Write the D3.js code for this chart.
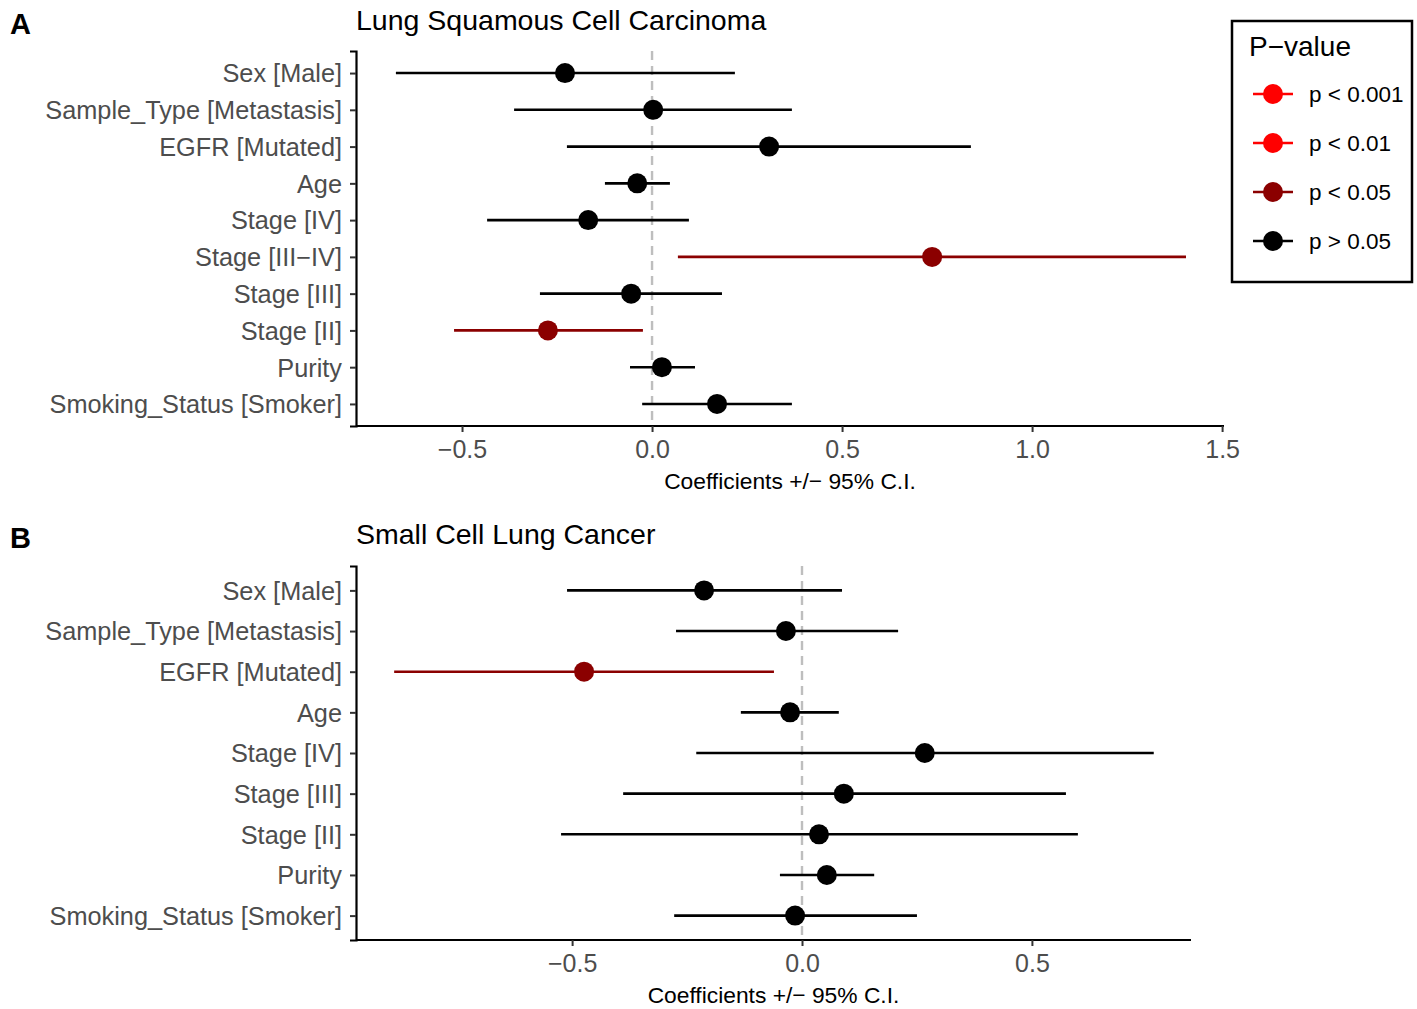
<!DOCTYPE html>
<meta charset="utf-8">
<style>
    body { margin: 0; background: #fff; }
    text { font-family: "Liberation Sans", Arial, sans-serif; }
    .ylab { fill: #4d4d4d; font-size: 25.3px; }
    .xlab { fill: #4d4d4d; font-size: 25px; }
</style>
<svg width="1417" height="1009"></svg>
<script src="https://d3js.org/d3.v7.min.js"></script>
<script>
    // terms, top to bottom
    var termsA = ["Sex [Male]", "Sample_Type [Metastasis]", "EGFR [Mutated]", "Age", "Stage [IV]",
        "Stage [III\u2212IV]", "Stage [III]", "Stage [II]", "Purity", "Smoking_Status [Smoker]"];
    var estA = [-0.229, 0.003, 0.308, -0.039, -0.168, 0.737, -0.055, -0.274, 0.026, 0.171];
    var lowA = [-0.674, -0.363, -0.224, -0.124, -0.434, 0.068, -0.295, -0.521, -0.058, -0.026];
    var highA = [0.218, 0.368, 0.839, 0.047, 0.097, 1.405, 0.184, -0.024, 0.113, 0.368];
    var sigA = ["ns", "ns", "ns", "ns", "ns", "p05", "ns", "p05", "ns", "ns"];

    var termsB = ["Sex [Male]", "Sample_Type [Metastasis]", "EGFR [Mutated]", "Age", "Stage [IV]",
        "Stage [III]", "Stage [II]", "Purity", "Smoking_Status [Smoker]"];
    var estB = [-0.213, -0.035, -0.474, -0.026, 0.267, 0.091, 0.037, 0.054, -0.015];
    var lowB = [-0.511, -0.274, -0.887, -0.133, -0.230, -0.389, -0.524, -0.048, -0.278];
    var highB = [0.087, 0.209, -0.061, 0.080, 0.765, 0.574, 0.600, 0.157, 0.250];
    var sigB = ["ns", "ns", "p05", "ns", "ns", "ns", "ns", "ns", "ns"];

    var legendKeys = ["p001", "p01", "p05", "ns"];
    var legendLabels = ["p < 0.001", "p < 0.01", "p < 0.05", "p > 0.05"];
    var color = d3.scaleOrdinal().domain(legendKeys).range(["#ff0000", "#ff0000", "#8b0000", "#000000"]);

    var svg = d3.select("svg");

    function panel(opt) {
        var rows = opt.terms.map(function (t, i) {
            return { term: t, est: opt.est[i], lo: opt.low[i], hi: opt.high[i], sig: opt.sig[i] };
        });

        var x = d3.scaleLinear().domain(opt.xdom).range([opt.left, opt.right]);
        var y = d3.scalePoint().domain(opt.terms).range([opt.top, opt.bottom]).padding(0.6);

        var g = svg.append("g");

        // zero line
        g.append("line")
            .attr("x1", x(0)).attr("x2", x(0))
            .attr("y1", opt.top).attr("y2", opt.bottom)
            .attr("stroke", "#bebebe").attr("stroke-width", 2.4)
            .attr("stroke-dasharray", "9,6");

        g.selectAll(".ci").data(rows).enter().append("line")
            .attr("x1", function (d) { return x(d.lo); })
            .attr("x2", function (d) { return x(d.hi); })
            .attr("y1", function (d) { return y(d.term); })
            .attr("y2", function (d) { return y(d.term); })
            .attr("stroke", function (d) { return color(d.sig); })
            .attr("stroke-width", 2.6);

        g.selectAll(".pt").data(rows).enter().append("circle")
            .attr("cx", function (d) { return x(d.est); })
            .attr("cy", function (d) { return y(d.term); })
            .attr("r", 10)
            .attr("fill", function (d) { return color(d.sig); });

        // y axis
        var ya = g.append("g")
            .attr("transform", "translate(" + opt.left + ",0)")
            .call(d3.axisLeft(y).tickSize(6).tickPadding(8));
        ya.select(".domain").attr("stroke", "#000").attr("stroke-width", 2.2);
        ya.selectAll(".tick line").attr("stroke", "#333").attr("stroke-width", 2);
        ya.selectAll(".tick text").attr("class", "ylab").attr("font-size", null).attr("font-family", null)
            .attr("fill", null).attr("dy", "0.35em");

        // x axis
        var xa = g.append("g")
            .attr("transform", "translate(0," + opt.bottom + ")")
            .call(d3.axisBottom(x).tickValues(opt.ticks).tickSize(6).tickPadding(5)
                .tickFormat(function (d) { return d3.format(".1f")(d).replace("-", "\u2212"); }));
        xa.select(".domain").attr("stroke", "#000").attr("stroke-width", 2.2)
            .attr("d", "M" + opt.left + ",0H" + opt.right);
        xa.selectAll(".tick line").attr("stroke", "#333").attr("stroke-width", 2);
        xa.selectAll(".tick text").attr("class", "xlab").attr("font-size", null).attr("font-family", null)
            .attr("fill", null).attr("dy", "0.85em");

        svg.append("text")
            .attr("x", (opt.left + opt.right) / 2).attr("y", opt.bottom + 63)
            .attr("text-anchor", "middle").attr("font-size", 22.8)
            .text("Coefficients +/\u2212 95% C.I.");

        svg.append("text")
            .attr("x", opt.left).attr("y", opt.titleY)
            .attr("font-size", 28.5)
            .text(opt.title);

        svg.append("text")
            .attr("x", 10).attr("y", opt.titleY + 4)
            .attr("font-size", 29).attr("font-weight", "bold")
            .text(opt.tag);
    }

    panel({
        terms: termsA, est: estA, low: lowA, high: highA, sig: sigA,
        xdom: [-0.779, 1.505], ticks: [-0.5, 0, 0.5, 1.0, 1.5],
        left: 356, right: 1224, top: 51, bottom: 426,
        title: "Lung Squamous Cell Carcinoma", titleY: 30, tag: "A"
    });

    panel({
        terms: termsB, est: estB, low: lowB, high: highB, sig: sigB,
        xdom: [-0.97, 0.846], ticks: [-0.5, 0, 0.5],
        left: 356, right: 1191, top: 566, bottom: 940,
        title: "Small Cell Lung Cancer", titleY: 544, tag: "B"
    });

    // legend
    var lg = svg.append("g").attr("transform", "translate(1232,21)");
    lg.append("rect").attr("width", 180).attr("height", 261)
        .attr("fill", "#fff").attr("stroke", "#000").attr("stroke-width", 2.5);
    lg.append("text").attr("x", 17).attr("y", 35).attr("font-size", 28).text("P\u2212value");
    var items = lg.selectAll(".key").data(legendKeys).enter().append("g")
        .attr("transform", function (d, i) { return "translate(0," + (73 + i * 49) + ")"; });
    items.append("line").attr("x1", 21).attr("x2", 61)
        .attr("stroke", function (d) { return color(d); }).attr("stroke-width", 2.6);
    items.append("circle").attr("cx", 41).attr("r", 10)
        .attr("fill", function (d) { return color(d); });
    items.append("text").attr("x", 77).attr("dy", "0.35em").attr("font-size", 22.5)
        .text(function (d, i) { return legendLabels[i]; });
</script>
